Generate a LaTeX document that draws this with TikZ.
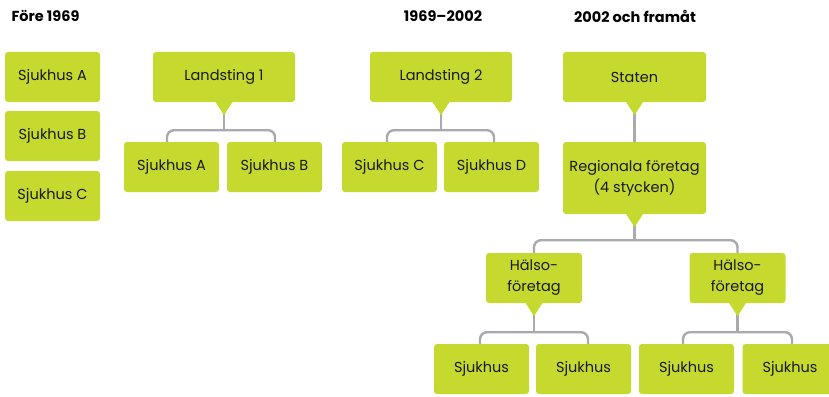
\documentclass[tikz,border=0pt]{standalone}
\usepackage{fontspec}
\setmainfont{Poppins}
\definecolor{boxgreen}{HTML}{C5D92F}
\definecolor{linkgray}{HTML}{A8AAAD}
\tikzset{
  unit/.style={fill=boxgreen, rounded corners=3pt, inner sep=2pt,
    minimum width=95pt, minimum height=50pt, align=center,
    font=\fontsize{14.5}{21}\selectfont, text=black!90},
  wide/.style={unit, minimum width=142pt},
  title/.style={font=\bfseries\fontsize{14.5}{17}\selectfont, text=black},
  conn/.style={draw=linkgray, line width=2.4pt, rounded corners=7pt},
}
% downward pointer under a box
\newcommand\pointer[1]{%
  \fill[boxgreen] ([xshift=-9pt,yshift=1pt]#1.south) -- ([xshift=9pt,yshift=1pt]#1.south)
    -- ([yshift=-13pt]#1.south) -- cycle;}
\begin{document}
\begin{tikzpicture}[x=1pt,y=-1pt]
\useasboundingbox (0,0) rectangle (829,396);
\clip (0,0) rectangle (829,396);

% period headings
\node[title, anchor=west] (t1) at (8,16) {Före 1969};
\node[title] (t2) at (443,16) {1969–2002};
\node[title] (t3) at (635,16) {2002 och framåt};

% before 1969: separate hospitals
\node[unit] (sa) at (52.5,77) {Sjukhus A};
\node[unit] (sb) at (52.5,136) {Sjukhus B};
\node[unit] (sc) at (52.5,196) {Sjukhus C};

% 1969-2002: county councils
\node[wide] (l1) at (224,77) {Landsting 1};
\node[unit] (a2) at (171.5,167) {Sjukhus A};
\node[unit] (b2) at (274.5,167) {Sjukhus B};

\node[wide] (l2) at (441,77) {Landsting 2};
\node[unit] (c2) at (389.5,167) {Sjukhus C};
\node[unit] (d2) at (491.5,167) {Sjukhus D};

% 2002 onwards: the state
\node[wide, minimum width=143pt] (st) at (634.5,77) {Staten};
\node[wide, minimum width=143pt, minimum height=72pt] (rf) at (634.5,178) {Regionala företag\\(4 stycken)};
\node[unit, minimum width=96pt] (h1) at (534,278) {Hälso-\\företag};
\node[unit, minimum width=96pt] (h2) at (737.5,278) {Hälso-\\företag};
\node[unit] (s1) at (481.5,369) {Sjukhus};
\node[unit] (s2) at (583.5,369) {Sjukhus};
\node[unit] (s3) at (686.5,369) {Sjukhus};
\node[unit] (s4) at (790,369) {Sjukhus};

% connectors
\draw[conn] (l1.south) -- ++(0,28) coordinate (j1);
\draw[conn] ([xshift=-4.5pt]a2.north) |- (j1) -| ([xshift=0.5pt]b2.north);
\draw[conn] (l2.south) -- ++(0,28) coordinate (j2);
\draw[conn] ([xshift=-2.5pt]c2.north) |- (j2) -| ([xshift=2.5pt]d2.north);
\draw[conn] (st.south) -- (rf.north);
\draw[conn] (rf.south) -- ++(0,26) coordinate (j3);
\draw[conn] (h1.north) |- (j3) -| (h2.north);
\draw[conn] (h1.south) -- ++(0,29) coordinate (j4);
\draw[conn] ([xshift=-1.5pt]s1.north) |- (j4) -| ([xshift=4.5pt]s2.north);
\draw[conn] (h2.south) -- ++(0,29) coordinate (j5);
\draw[conn] ([xshift=-3.5pt]s3.north) |- (j5) -| ([xshift=2pt]s4.north);

% pointers under the parent boxes
\foreach \n in {l1,l2,st,rf,h1,h2} {\pointer{\n}}
\end{tikzpicture}
\end{document}
